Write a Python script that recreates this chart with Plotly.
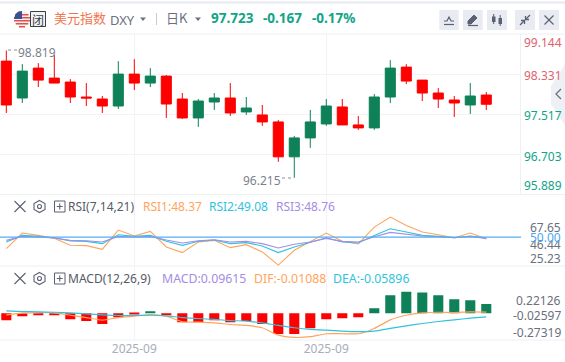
import plotly.graph_objects as go
from plotly.subplots import make_subplots

x_index = list(range(31))
x_tick_index = [8, 20]
x_tick_labels = ["2025-09", "2025-09"]

open_ = [98.607,97.851,98.464,98.259,98.178,97.871,97.830,97.687,98.341,98.157,98.300,97.830,97.442,97.769,97.851,97.565,97.503,97.360,96.645,97.033,97.319,97.667,97.299,97.238,97.871,98.484,98.218,97.953,97.810,97.708,97.912]
high = [98.825,98.545,98.566,98.729,98.239,98.157,97.892,98.607,98.647,98.464,98.321,97.953,97.830,97.953,98.157,97.871,97.708,97.401,97.074,97.606,97.830,97.830,97.483,97.932,98.627,98.545,98.218,98.055,97.892,98.157,97.973]
low = [97.544,97.749,98.075,98.157,97.749,97.687,97.544,97.626,98.014,98.075,97.442,97.422,97.258,97.606,97.483,97.503,97.279,96.543,96.215,96.829,97.279,97.299,97.197,97.197,97.749,98.137,97.789,97.646,97.463,97.524,97.606]
close = [97.708,98.402,98.218,98.157,97.871,97.851,97.687,98.341,98.157,98.300,97.728,97.442,97.789,97.851,97.544,97.646,97.360,96.645,97.033,97.360,97.687,97.299,97.238,97.871,98.464,98.198,97.953,97.830,97.749,97.892,97.723]

rsi1 = [39.76,53.51,51.46,48.83,42.68,42.39,39.17,56.15,50.88,54.98,41.22,36.24,45.61,47.07,40.63,43.27,36.83,25.23,38.29,46.2,53.51,46.2,43.85,58.78,67.65,60.24,54.39,52.05,49.41,53.51,48.37]
rsi2 = [45.61,51.46,50.59,49.41,46.49,46.2,44.15,52.05,50.59,51.46,46.2,42.68,46.2,47.37,44.15,45.02,42.1,36.24,41.22,45.02,49.41,45.61,44.73,51.46,57.32,54.39,51.46,50.59,49.41,50.88,49.08]
rsi3 = [47.07,50.59,50.0,49.12,47.07,46.78,45.61,50.59,50.0,50.59,47.37,44.73,46.78,47.66,45.61,46.2,44.15,40.34,43.56,45.61,48.83,46.2,45.61,50.29,54.1,52.63,50.88,50.29,49.41,50.59,48.76]
rsi_mid = [50.0] * 2

macd_bar = [-0.072,-0.031,-0.021,-0.021,-0.062,-0.082,-0.113,-0.041,-0.010,0.021,-0.021,-0.093,-0.093,-0.072,-0.093,-0.082,-0.113,-0.216,-0.216,-0.155,-0.062,-0.052,-0.041,0.052,0.186,0.22126,0.216,0.186,0.144,0.134,0.09615]
dif = [-0.017,0.0,0.007,0.003,-0.021,-0.045,-0.072,-0.045,-0.031,-0.014,-0.031,-0.089,-0.093,-0.10,-0.117,-0.127,-0.151,-0.227,-0.251,-0.244,-0.213,-0.213,-0.213,-0.158,-0.069,-0.021,0.003,0.010,0.007,0.014,0.012]
dea = [0.024,0.017,0.014,0.010,0.003,-0.007,-0.017,-0.024,-0.024,-0.021,-0.027,-0.045,-0.055,-0.065,-0.076,-0.082,-0.10,-0.127,-0.151,-0.168,-0.175,-0.186,-0.192,-0.186,-0.158,-0.131,-0.107,-0.086,-0.069,-0.052,-0.038]

W, H = 565, 362
FONT = "Noto Sans, Noto Sans CJK SC"
GREEN = "#0f8158"
RED = "#ff0000"
ORANGE = "#ffa45c"
CYAN = "#2ec4dd"
PURPLE = "#a58ce6"
GRID = "#f2f3f6"
ICON = "#5b6170"

fig = make_subplots(rows=3, cols=1, shared_xaxes=True)

fig.add_trace(go.Candlestick(x=x_index, open=open_, high=high, low=low, close=close,
    increasing=dict(line=dict(color=GREEN, width=1), fillcolor=GREEN),
    decreasing=dict(line=dict(color=RED, width=1), fillcolor=RED),
    whiskerwidth=0, hoverinfo="skip"), row=1, col=1)

for vals, c in ((rsi1, ORANGE), (rsi2, CYAN), (rsi3, PURPLE)):
    fig.add_trace(go.Scatter(x=x_index, y=vals, mode="lines", line=dict(color=c, width=1.1), hoverinfo="skip"), row=2, col=1)
fig.add_trace(go.Scatter(x=[-1, 33], y=rsi_mid, mode="lines", line=dict(color="#55aef2", width=1.3), hoverinfo="skip"), row=2, col=1)

fig.add_trace(go.Bar(x=x_index, y=macd_bar, width=0.63,
    marker=dict(color=[GREEN if v > 0 else RED for v in macd_bar], line=dict(width=0)), hoverinfo="skip"), row=3, col=1)
fig.add_trace(go.Scatter(x=x_index, y=dif, mode="lines", line=dict(color=ORANGE, width=1.2, shape="spline", smoothing=0.5), hoverinfo="skip"), row=3, col=1)
fig.add_trace(go.Scatter(x=x_index, y=dea, mode="lines", line=dict(color=CYAN, width=1.2, shape="spline", smoothing=0.5), hoverinfo="skip"), row=3, col=1)

X_RANGE = [-0.394, 32.17]
def dom(top, bottom):
    return [1 - bottom / H, 1 - top / H]

fig.update_layout(
    width=W, height=H, margin=dict(l=0, r=0, t=0, b=0), boxgap=0.1,
    paper_bgcolor="white", plot_bgcolor="white", showlegend=False, font=dict(family=FONT),
    xaxis=dict(domain=[0, 521 / W], range=X_RANGE, rangeslider=dict(visible=False),
               tickvals=x_tick_index, ticktext=x_tick_labels, showticklabels=False,
               showgrid=True, gridcolor=GRID, zeroline=False, showline=False, ticks=""),
    xaxis2=dict(domain=[0, 521 / W], range=X_RANGE, tickvals=x_tick_index, showticklabels=False,
                showgrid=True, gridcolor=GRID, zeroline=False, ticks=""),
    xaxis3=dict(domain=[0, 521 / W], range=X_RANGE, tickvals=x_tick_index, ticktext=x_tick_labels,
                showgrid=True, gridcolor=GRID, zeroline=False, ticks="", ticklen=0,
                tickfont=dict(size=12, color="#a9adb9", family=FONT)),
    yaxis=dict(domain=dom(34, 194), range=[95.883, 99.163], tickvals=[98.331, 97.517, 96.703],
               showticklabels=False, showgrid=True, gridcolor=GRID, zeroline=False, ticks=""),
    yaxis2=dict(domain=dom(194.5, 266), range=[24.4, 87.6], showticklabels=False, showgrid=False, zeroline=False),
    yaxis3=dict(domain=dom(266.5, 340), range=[-0.278, 0.4845], showticklabels=False, showgrid=False, zeroline=False),
)

def X(p): return p / W
def Y(p): return 1 - p / H

def txt(s, x, y, color, size=12, anchor="left", bold=False, family=FONT):
    fig.add_annotation(xref="paper", yref="paper", x=X(x), y=Y(y), text=f"<b>{s}</b>" if bold else s,
        showarrow=False, xanchor=anchor, yanchor="middle", align=anchor,
        font=dict(size=size, color=color, family=family), borderpad=0, borderwidth=0)

def path(d, **kw):
    s = " ".join(f"{c} {X(a):.5f},{Y(b):.5f}" for c, a, b in d) + (" Z" if kw.pop("close", False) else "")
    fig.add_shape(type="path", xref="paper", yref="paper", path=s, layer=kw.pop("layer", "above"),
        fillcolor=kw.pop("fill", "rgba(0,0,0,0)"), line=dict(color=kw.pop("color", ICON), width=kw.pop("width", 1)))

def rect(x0, y0, x1, y1, fill, line=None, lw=0, layer="above"):
    fig.add_shape(type="rect", xref="paper", yref="paper", x0=X(x0), x1=X(x1), y0=Y(y0), y1=Y(y1),
        fillcolor=fill, line=dict(color=line or fill, width=lw), layer=layer)

def hline(y, x0=0, x1=W, color="#eef0f4", w=1.2):
    fig.add_shape(type="line", xref="paper", yref="paper", x0=X(x0), x1=X(x1), y0=Y(y), y1=Y(y),
        line=dict(color=color, width=w), layer="below")

def vline(x, y0, y1, color="#eef0f4", w=1):
    fig.add_shape(type="line", xref="paper", yref="paper", x0=X(x), x1=X(x), y0=Y(y0), y1=Y(y1),
        line=dict(color=color, width=w), layer="below")

hline(2.5, color="#e6e9ef", w=2)
hline(34); hline(194.5); hline(266); hline(340)
vline(520.5, 34, 194)

fig.add_shape(type="circle", xref="paper", yref="paper", x0=X(14), x1=X(30), y0=Y(27), y1=Y(11),
    fillcolor="#f4f1f1", line=dict(color="#f4f1f1", width=0))
for y0, hw in ((14, 6.5), (17, 7.9), (20, 7.9), (23, 6.3), (26, 3.0)):
    path([("M", 22 - hw, y0), ("L", 22 + hw, y0), ("L", 22 + hw, y0 + 1.5), ("L", 22 - hw, y0 + 1.5)],
         fill="#e0504f", color="#e0504f", width=0, close=True)
path([("M", 22, 11), ("L", 22, 19), ("L", 14, 19), ("L", 15.5, 14), ("L", 18.5, 11.5)],
     fill="#3c4f8f", color="#3c4f8f", width=0, close=True)
rect(30.5, 11.5, 45.5, 26.5, "#f2f3f5", "#3a3d44", 1)
txt("闭", 38, 19, "#3a3d44", 12, "center", family="Noto Sans CJK SC")

txt("美元指数", 54, 18, "#f2754f", 13, family="Noto Sans CJK SC")
txt("DXY", 110, 19.5, "#6b7080", 13)
path([("M", 140, 17.5), ("L", 146, 17.5), ("L", 143, 21)], fill="#6b7080", color="#6b7080", width=0, close=True)
vline(156.5, 13, 25, color="#c9ccd4", w=1)
txt("日K", 166, 18, "#6b7080", 13, family="Noto Sans CJK SC")
path([("M", 195, 17.5), ("L", 201, 17.5), ("L", 198, 21)], fill="#6b7080", color="#6b7080", width=0, close=True)
txt("97.723", 211, 17.5, "#12a488", 13.5, bold=True)
txt("-0.167", 263, 17.5, "#12a488", 13.5, bold=True)
txt("-0.17%", 312, 17.5, "#12a488", 13.5, bold=True)

for x0, x1 in ((439.3, 458.7), (463, 482.7), (487, 507), (515, 535), (539, 559)):
    fig.add_shape(type="rect", xref="paper", yref="paper", x0=X(x0), x1=X(x1), y0=Y(30), y1=Y(10),
        fillcolor="#e9ebf2", line=dict(width=0), layer="below")
path([("M", 444, 21), ("L", 447, 21), ("L", 449, 17), ("L", 451, 21), ("L", 454, 21)], width=1.2)
path([("M", 444, 24.5), ("L", 454, 24.5)], width=1.2)
path([("M", 468, 24), ("L", 468, 21), ("L", 474, 15), ("L", 477, 18), ("L", 471, 24)], fill=ICON, close=True)
path([("M", 468, 25.5), ("L", 478, 25.5)], width=1.2)
rect(492, 16.5, 495.5, 22, ICON); rect(498.5, 18, 502, 24, ICON)
path([("M", 493.7, 14), ("L", 493.7, 24)]); path([("M", 500.2, 15), ("L", 500.2, 26)])
path([("M", 520, 25), ("L", 524, 21), ("M", 526, 19), ("L", 530, 15)], width=1.3)
path([("M", 521, 20.5), ("L", 524.5, 20.5), ("L", 524.5, 24)], width=1.3)
path([("M", 525.5, 16), ("L", 525.5, 19.5), ("L", 529, 19.5)], width=1.3)
path([("M", 544.5, 15.5), ("L", 553.5, 24.5), ("M", 553.5, 15.5), ("L", 544.5, 24.5)], width=1.2)

path([("M", 565, 64), ("L", 551, 86), ("L", 551, 104), ("L", 565, 125)], fill="#eef0f5", color="#eef0f5", width=0, close=True)
path([("M", 561, 89), ("L", 556, 94), ("L", 561, 99)], color="#6b7080", width=1.3)

for s, y, c in (("99.144", 42.5, "#e0636f"), ("98.331", 75.5, "#e0636f"), ("97.517", 115.5, "#12a488"),
                ("96.703", 156, "#12a488"), ("95.889", 185, "#12a488")):
    txt(s, 562, y, c, 12, "right")

txt("98.819", 18, 52.5, "#7b7f8c", 12)
fig.add_shape(type="line", xref="paper", yref="paper", x0=X(8), x1=X(17), y0=Y(50), y1=Y(50),
    line=dict(color="#8b8f9a", width=1, dash="dot"))
txt("96.215", 243, 180.5, "#7b7f8c", 12)
fig.add_shape(type="line", xref="paper", yref="paper", x0=X(282), x1=X(294), y0=Y(178), y1=Y(178),
    line=dict(color="#8b8f9a", width=1, dash="dot"))

def panel_icons(yc):
    path([("M", 14.5, yc - 5.5), ("L", 25.5, yc + 5.5), ("M", 25.5, yc - 5.5), ("L", 14.5, yc + 5.5)], width=1.1)
    path([("M", 39.5, yc - 6), ("L", 45, yc - 3), ("L", 45, yc + 3), ("L", 39.5, yc + 6), ("L", 34, yc + 3), ("L", 34, yc - 3)], close=True, width=1.1)
    fig.add_shape(type="circle", xref="paper", yref="paper", x0=X(37.5), x1=X(41.5), y0=Y(yc + 2), y1=Y(yc - 2),
        line=dict(color=ICON, width=1.1))
    rect(54.5, yc - 5.5, 65, yc + 5.5, "white", ICON, 1)
    path([("M", 56.8, yc), ("L", 62.7, yc), ("M", 59.75, yc - 3), ("L", 59.75, yc + 3)], width=1.1)

panel_icons(206.5)
panel_icons(278.5)
txt("RSI(7,14,21)", 68, 206.5, "#555a66", 12)
txt("RSI1:48.37", 143, 206.5, ORANGE, 12)
txt("RSI2:49.08", 209, 206.5, CYAN, 12)
txt("RSI3:48.76", 276, 206.5, PURPLE, 12)
txt("MACD(12,26,9)", 68, 278.5, "#555a66", 12)
txt("MACD:0.09615", 162, 278.5, PURPLE, 12.3)
txt("DIF:-0.01088", 254, 278.5, ORANGE, 12.3)
txt("DEA:-0.05896", 333, 278.5, CYAN, 12.3)

for s, y in (("67.65", 228), ("46.44", 244), ("25.23", 258.5)):
    txt(s, 561, y, "#6b7080", 12, "right")
txt("50.00", 561, 237.5, "#4aa8f0", 12, "right")
for s, y in (("0.22126", 300), ("-0.02597", 315), ("-0.27319", 332)):
    txt(s, 561, y, "#6b7080", 12, "right")

fig.write_html("out.html", config=dict(displayModeBar=False),
               post_script="document.body.style.margin='0';")
